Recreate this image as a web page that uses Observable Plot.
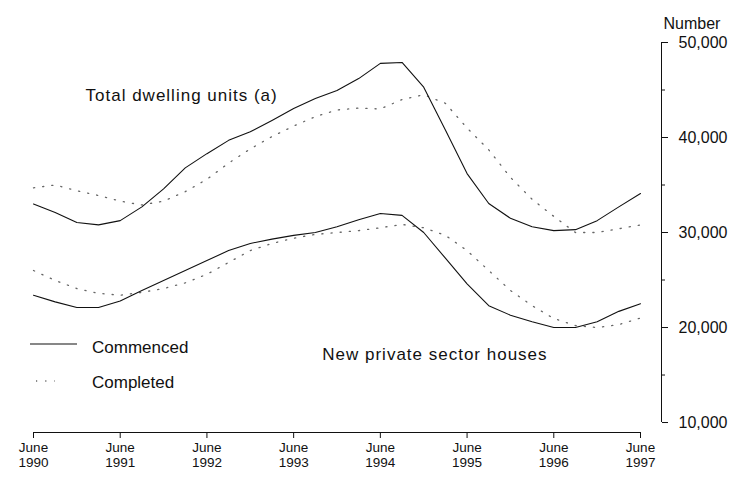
<!DOCTYPE html>
<html>
<head>
<meta charset="utf-8">
<script src="https://cdn.jsdelivr.net/npm/d3@7"></script>
<script src="https://cdn.jsdelivr.net/npm/@observablehq/plot@0.6"></script>
<style>
  html, body { margin: 0; padding: 0; background: #fff; }
  #chart { position: relative; width: 732px; height: 481px; }
  svg { font-family: "Liberation Sans", Arial, sans-serif; }
</style>
</head>
<body>
<div id="chart"></div>
<script>
// Quarters, June 1990 .. June 1997 (as year fractions, 1990 = June 1990)
const quarters = [
  1990.00, 1990.25, 1990.50, 1990.75,
  1991.00, 1991.25, 1991.50, 1991.75,
  1992.00, 1992.25, 1992.50, 1992.75,
  1993.00, 1993.25, 1993.50, 1993.75,
  1994.00, 1994.25, 1994.50, 1994.75,
  1995.00, 1995.25, 1995.50, 1995.75,
  1996.00, 1996.25, 1996.50, 1996.75,
  1997.00
];
const totalCommenced = [
  33000, 32100, 31050, 30800, 31250, 32700, 34600, 36800, 38300, 39700,
  40600, 41800, 43050, 44100, 44950, 46200, 47800, 47900, 45300, 40800,
  36200, 33050, 31500, 30600, 30200, 30300, 31250, 32700, 34100
];
const totalCompleted = [
  34700, 35000, 34400, 33900, 33300, 32900, 33300, 34300, 35600, 37300,
  38800, 40100, 41200, 42200, 42900, 43100, 43000, 44000, 44500, 43600,
  41000, 38700, 35800, 33500, 31700, 30000, 30000, 30400, 30800
];
const housesCommenced = [
  23400, 22700, 22100, 22100, 22800, 23900, 24950, 26000, 27050, 28100,
  28850, 29300, 29700, 30000, 30600, 31350, 32000, 31800, 30000, 27300,
  24600, 22300, 21300, 20600, 20000, 20000, 20600, 21700, 22500
];
const housesCompleted = [
  26000, 24950, 24100, 23600, 23400, 23700, 24100, 24700, 25600, 26850,
  28100, 28850, 29400, 29800, 30000, 30200, 30500, 30850, 30500, 29700,
  28100, 26000, 23900, 22300, 20950, 20200, 20000, 20300, 21000
];
const xTicks = [1990, 1991, 1992, 1993, 1994, 1995, 1996, 1997];
const yTicks = [10000, 20000, 30000, 40000, 50000];
const yMinorTicks = [15000, 25000, 35000, 45000];
const yMin = 8950;

const rows = (vals) => quarters.map((q, i) => ({x: q, y: vals[i]}));

const solid = {stroke: "#111", strokeWidth: 1.1};
const dotted = {stroke: "#666", strokeWidth: 1.3, strokeDasharray: "1.2,8"};

const plot = Plot.plot({
  width: 732,
  height: 481,
  marginTop: 42,
  marginBottom: 49,
  marginLeft: 33,
  marginRight: 71,
  x: {domain: [1990, 1997], range: [33, 640]},
  y: {domain: [yMin, 50000]},
  style: {fontFamily: "Liberation Sans, Arial, sans-serif", color: "#111", background: "#fff"},
  marks: [
    Plot.line(rows(totalCompleted), {x: "x", y: "y", ...dotted}),
    Plot.line(rows(housesCompleted), {x: "x", y: "y", ...dotted}),
    Plot.line(rows(totalCommenced), {x: "x", y: "y", ...solid}),
    Plot.line(rows(housesCommenced), {x: "x", y: "y", ...solid}),
    // x axis
    Plot.ruleY([yMin], {x1: 1990, x2: 1997, stroke: "#111"}),
    Plot.axisX({
      ticks: xTicks,
      tickFormat: (d) => "June\n" + d,
      tickSize: 6,
      tickPadding: 2,
      fontSize: 13.5,
      lineHeight: 1.15,
      label: null
    }),
    // y axis on the right
    Plot.ruleX([1997], {y1: 10000, y2: 50000, dx: 21, stroke: "#111"}),
    Plot.axisY({
      anchor: "right",
      ticks: yTicks,
      tickFormat: d3.format(","),
      tickSize: 6,
      tickPadding: 11,
      fontSize: 16,
      label: null
    }),
    Plot.axisY({
      anchor: "right",
      ticks: yMinorTicks,
      tickFormat: () => "",
      tickSize: 3,
      label: null
    }),
    Plot.text(["Number"], {
      frameAnchor: "top-right", textAnchor: "start", lineAnchor: "middle",
      dx: 2, dy: -19, fontSize: 16
    }),
    Plot.text(["Total dwelling units (a)"], {
      x: 1990.6, y: 44400, textAnchor: "start", lineAnchor: "middle",
      fontSize: 17
    }),
    Plot.text(["New private sector houses"], {
      x: 1993.33, y: 17150, textAnchor: "start", lineAnchor: "middle",
      fontSize: 17
    })
  ]
});

document.getElementById("chart").appendChild(plot);

const svg = d3.select(plot);
// wider letter spacing for the two series annotations (scanned type is wide)
svg.selectAll("text").filter(function () {
  const t = this.textContent;
  return t === "Total dwelling units (a)" || t === "New private sector houses";
}).style("letter-spacing", "1px");

// Legend (inside the plot area, lower left)
const leg = svg.append("g").attr("font-size", 17).attr("fill", "#111").attr("text-anchor", "start");
leg.append("line").attr("x1", 30).attr("x2", 77).attr("y1", 344).attr("y2", 344)
  .attr("stroke", "#111").attr("stroke-width", 1.1);
leg.append("text").attr("x", 92).attr("y", 347.5).attr("dy", "0.35em").text("Commenced");
leg.append("line").attr("x1", 36).attr("x2", 55).attr("y1", 381).attr("y2", 381)
  .attr("stroke", "#666").attr("stroke-width", 1.3).attr("stroke-dasharray", "1.2,8");
leg.append("text").attr("x", 92).attr("y", 382).attr("dy", "0.35em").text("Completed");
</script>
</body>
</html>
